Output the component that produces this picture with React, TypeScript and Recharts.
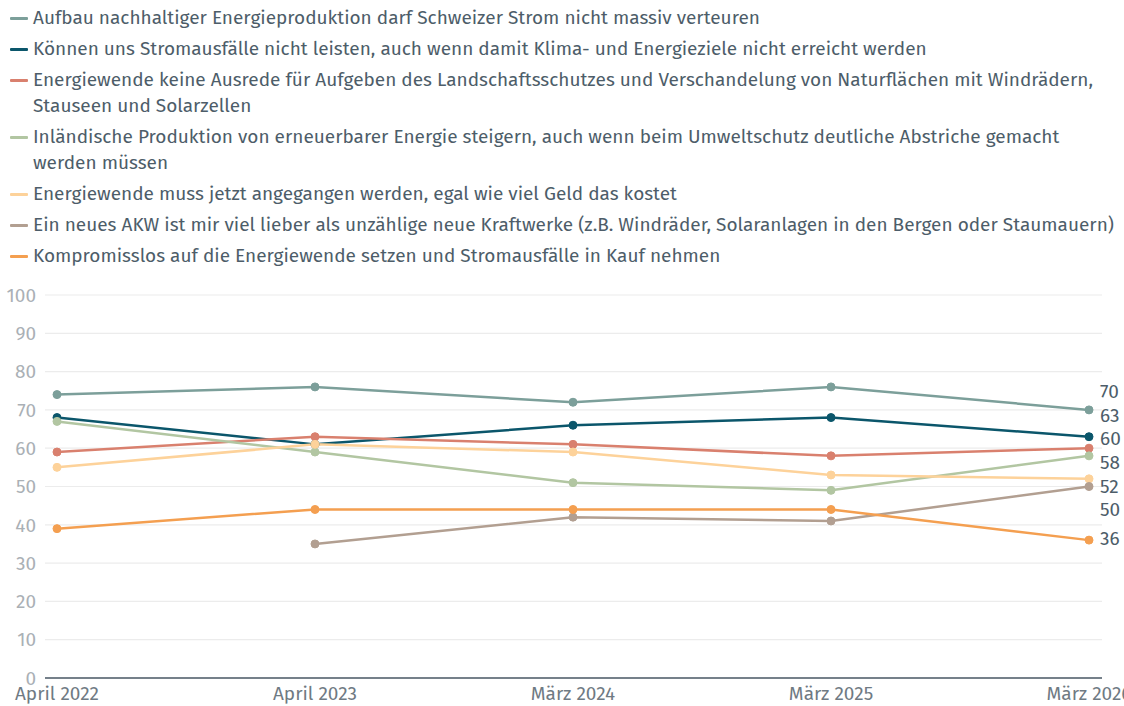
import React from "react";
import { LineChart, Line, XAxis, YAxis, CartesianGrid, LabelList } from "recharts";

const categories = ["April 2022", "April 2023", "März 2024", "März 2025", "März 2026"];
const yTicks = [0, 10, 20, 30, 40, 50, 60, 70, 80, 90, 100];

const s1 = [74, 76, 72, 76, 70];
const s2 = [68, 61, 66, 68, 63];
const s3 = [59, 63, 61, 58, 60];
const s4 = [67, 59, 51, 49, 58];
const s5 = [55, 61, 59, 53, 52];
const s6 = [null, 35, 42, 41, 50];
const s7 = [39, 44, 44, 44, 36];

const names = [
  "Aufbau nachhaltiger Energieproduktion darf Schweizer Strom nicht massiv verteuren",
  "Können uns Stromausfälle nicht leisten, auch wenn damit Klima- und Energieziele nicht erreicht werden",
  "Energiewende keine Ausrede für Aufgeben des Landschaftsschutzes und Verschandelung von Naturflächen mit Windrädern,\nStauseen und Solarzellen",
  "Inländische Produktion von erneuerbarer Energie steigern, auch wenn beim Umweltschutz deutliche Abstriche gemacht\nwerden müssen",
  "Energiewende muss jetzt angegangen werden, egal wie viel Geld das kostet",
  "Ein neues AKW ist mir viel lieber als unzählige neue Kraftwerke (z.B. Windräder, Solaranlagen in den Bergen oder Staumauern)",
  "Kompromisslos auf die Energiewende setzen und Stromausfälle in Kauf nehmen",
];

const colors = ["#7c9f9a", "#0b566b", "#d9806e", "#b2c6a2", "#fdd29a", "#b29f91", "#f49f50"];
const seriesValues = [s1, s2, s3, s4, s5, s6, s7];
const keys = ["s1", "s2", "s3", "s4", "s5", "s6", "s7"];

const data = categories.map((c, i) => {
  const row: any = { cat: c };
  keys.forEach((k, j) => (row[k] = seriesValues[j][i]));
  return row;
});

const FONT = "'Fira Sans', 'Noto Sans', sans-serif";
const W = 1124;
const H = 706;
const M = { top: 295, right: 22, bottom: 0, left: 0 };
const XH = 28;
const plotTop = M.top;
const plotBottom = H - M.bottom - XH;
const toPx = (v: number) => plotBottom - ((plotBottom - plotTop) * v) / 100;

// dodge end labels so they don't overlap
const GAP = 23.6;
function dodge(ys: number[]): number[] {
  const items = ys.map((y, i) => ({ i, y })).sort((a, b) => a.y - b.y);
  let clusters = items.map((it) => ({ members: [it], center: it.y }));
  let changed = true;
  while (changed) {
    changed = false;
    for (let c = 0; c < clusters.length - 1; c++) {
      const a = clusters[c];
      const b = clusters[c + 1];
      const aEnd = a.center + ((a.members.length - 1) * GAP) / 2;
      const bStart = b.center - ((b.members.length - 1) * GAP) / 2;
      if (bStart - aEnd < GAP) {
        const members = [...a.members, ...b.members];
        const center = members.reduce((s, m) => s + m.y, 0) / members.length;
        clusters.splice(c, 2, { members, center });
        changed = true;
        break;
      }
    }
  }
  const out: number[] = new Array(ys.length);
  clusters.forEach((cl) => {
    const start = cl.center - ((cl.members.length - 1) * GAP) / 2;
    cl.members.forEach((m, k) => (out[m.i] = start + k * GAP));
  });
  return out;
}

const lastVals = seriesValues.map((s) => s[s.length - 1] as number);
const rawY = lastVals.map(toPx);
const dodgedY = dodge(rawY);

const makeLabel = (si: number) => (props: any) => {
  const { x, y, index, value } = props;
  if (index !== categories.length - 1 || value == null) return null;
  const dy = dodgedY[si] - rawY[si] - 2;
  return (
    <text
      x={x + 11}
      y={y + dy}
      fill="#4d5d69"
      fontSize={19}
      fontFamily={FONT}
      dominantBaseline="central"
      textAnchor="start"
    >
      {value}
    </text>
  );
};

function LegendBlock() {
  return (
    <div style={{ position: "absolute", left: 0, top: 5, width: W, fontFamily: FONT, fontSize: 19, color: "#4d5d69" }}>
      {names.map((n, i) => (
        <div key={i} style={{ display: "flex", alignItems: "flex-start", lineHeight: "26px", marginBottom: 5 }}>
          <span style={{ width: 18, height: 3, background: colors[i], marginLeft: 10, marginRight: 5, marginTop: 12, flex: "none", borderRadius: 1 }} />
          <span style={{ whiteSpace: "pre" }}>{n}</span>
        </div>
      ))}
    </div>
  );
}

export default function App() {
  return (
    <div style={{ position: "absolute", left: 0, top: 0, width: W, height: H, overflow: "hidden", background: "#fff" }}>
      <LegendBlock />
      <div style={{ position: "absolute", left: 0, top: 0 }}>
        <LineChart width={W} height={H} data={data} margin={M}>
          <CartesianGrid vertical={false} stroke="#ececec" strokeWidth={1.2} />
          <XAxis
            dataKey="cat"
            height={XH}
            padding={{ left: 12, right: 13 }}
            tickLine={false}
            axisLine={{ stroke: "#4a5966", strokeWidth: 1.5 }}
            tick={{ fill: "#6f7a83", fontSize: 19, fontFamily: FONT }}
            tickMargin={3}
            interval={0}
          />
          <YAxis
            width={45}
            domain={[0, 100]}
            ticks={yTicks}
            tickLine={false}
            axisLine={false}
            tick={{ fill: "#aab0b5", fontSize: 19, fontFamily: FONT }}
            tickMargin={3}
          />
          {keys.map((k, i) => (
            <Line
              key={k}
              dataKey={k}
              name={names[i]}
              stroke={colors[i]}
              strokeWidth={2.5}
              dot={{ r: 4, fill: colors[i], stroke: colors[i], strokeWidth: 1 }}
              activeDot={false}
              isAnimationActive={false}
            >
              <LabelList dataKey={k} content={makeLabel(i)} />
            </Line>
          ))}
        </LineChart>
      </div>
    </div>
  );
}
